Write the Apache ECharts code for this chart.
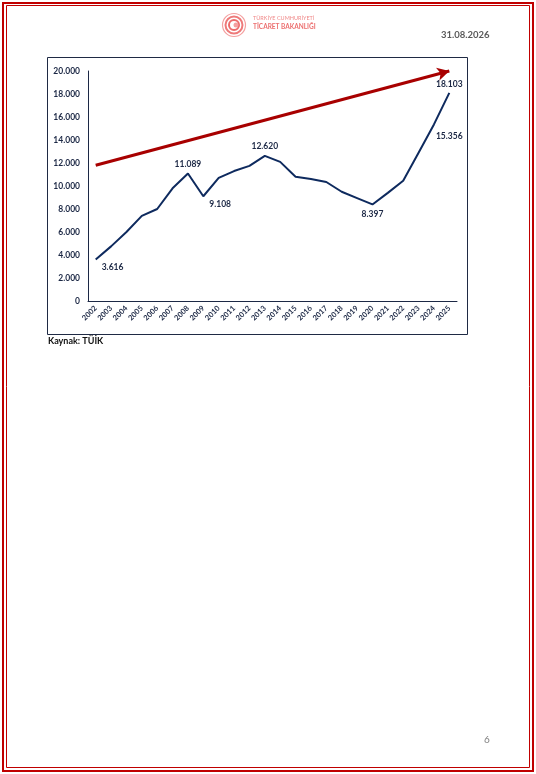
<!DOCTYPE html>
<html>
<head>
<meta charset="utf-8">
<script src="https://cdn.jsdelivr.net/npm/echarts@6/dist/echarts.min.js"></script>
<style>
    html, body { margin: 0; padding: 0; background: #fff; }
    #page { width: 536px; height: 774px; }
</style>
</head>
<body>
<div id="page"></div>
<script>
// yillar ve degerler
var years = ['2002', '2003', '2004', '2005', '2006', '2007', '2008', '2009', '2010', '2011', '2012', '2013',
    '2014', '2015', '2016', '2017', '2018', '2019', '2020', '2021', '2022', '2023', '2024', '2025'];
var values = [3616, 4750, 6000, 7400, 8000, 9800, 11089, 9108, 10700, 11300, 11750, 12620,
    12100, 10800, 10600, 10350, 9500, 8950, 8397, 9400, 10450, 12900, 15356, 18103];
// etiketli yillar ve etiket konumu
var labelYears = ['2002', '2008', '2009', '2013', '2020', '2024', '2025'];
var labelPos = ['right', 'top', 'right', 'top', 'bottom', 'right', 'top'];
// trend oku (baslangic / bitis), x = kategori sirasi
var trendStart = [0, 11800];
var trendEnd = [22.85, 20000];

var navy = '#0e2a5e';
var textDark = '#1c2845';

function fmt(v) {
    return String(v).replace(/\B(?=(\d{3})+(?!\d))/g, '.');
}

var labelStyle = {
    color: textDark, fontFamily: 'Lato', fontWeight: 'bold', fontSize: 8.5,
    formatter: function(p) { return fmt(p.value); }
};

var seriesData = values.map(function(v, i) {
    var k = labelYears.indexOf(years[i]);
    if (k < 0) return v;
    var pos = labelPos[k];
    var off = [0, 0];
    if (pos === 'right') off = [1, 8];
    if (years[i] === '2024') off = [-3, 12];
    if (years[i] === '2025') off = [0, 1];
    return {
        value: v,
        label: Object.assign({ show: true, position: pos, offset: off }, labelStyle)
    };
});

var chart = echarts.init(document.getElementById('page'));

var option = {
    animation: false,
    grid: { left: 88, right: 79, top: 71, bottom: 473 },
    xAxis: {
        type: 'category',
        data: years,
        axisLine: { lineStyle: { color: textDark, width: 1 } },
        axisTick: { show: false },
        axisLabel: {
            rotate: 45, interval: 0, margin: 6,
            color: textDark, fontFamily: 'Lato', fontWeight: 'bold', fontSize: 7.5
        }
    },
    yAxis: {
        type: 'value',
        min: 0, max: 20000, interval: 2000,
        splitLine: { show: false },
        axisLine: { show: true, lineStyle: { color: textDark, width: 1 } },
        axisTick: { show: false },
        axisLabel: {
            margin: 8, color: textDark, fontFamily: 'Lato', fontWeight: 'bold', fontSize: 8.5,
            formatter: fmt
        }
    },
    series: [{
        type: 'line',
        data: seriesData,
        symbol: 'circle',
        symbolSize: 0,
        lineStyle: { color: navy, width: 2 },
        itemStyle: { color: navy },
        label: Object.assign({ show: false }, labelStyle),
        markLine: {
            silent: true,
            symbol: ['none', 'arrow'],
            symbolSize: [10, 12],
            label: { show: false },
            lineStyle: { color: '#a80000', width: 3, type: 'solid' },
            data: [[{ coord: trendStart }, { coord: trendEnd }]]
        }
    }],
    graphic: [
        // sayfa cercevesi
        { type: 'rect', shape: { x: 3, y: 3, width: 530, height: 768 }, style: { fill: 'none', stroke: '#c00000', lineWidth: 2 } },
        { type: 'rect', shape: { x: 6.5, y: 5.5, width: 523, height: 762 }, style: { fill: 'none', stroke: '#c00000', lineWidth: 1 } },
        // grafik kutusu
        { type: 'rect', shape: { x: 47.5, y: 57.5, width: 420, height: 277 }, style: { fill: 'none', stroke: '#1f2a44', lineWidth: 1 } },
        // logo
        { type: 'circle', shape: { cx: 234, cy: 25, r: 11.5 }, style: { fill: 'none', stroke: '#f4a0a0', lineWidth: 1.2 } },
        { type: 'circle', shape: { cx: 234, cy: 25, r: 8.5 }, style: { fill: 'none', stroke: '#ee7a7a', lineWidth: 2 } },
        { type: 'circle', shape: { cx: 234, cy: 25, r: 5 }, style: { fill: 'none', stroke: '#ec6a6a', lineWidth: 2 } },
        { type: 'circle', shape: { cx: 236, cy: 25, r: 2.5 }, style: { fill: '#f4a0a0' } },
        { type: 'text', left: 253, top: 15, style: { text: 'TÜRKİYE CUMHURİYETİ', fill: '#f08a8a', font: '5.5px Lato' } },
        { type: 'text', left: 253, top: 23, style: { text: 'TİCARET BAKANLIĞI', fill: '#ec7070', font: 'bold 6.5px Lato' } },
        // tarih ve sayfa
        { type: 'text', left: 441, top: 30, style: { text: '31.08.2026', fill: '#595959', font: 'bold 9.5px Lato' } },
        { type: 'text', left: 484, top: 735, style: { text: '6', fill: '#7f7f7f', font: '10px Lato' } },
        // kaynak
        { type: 'text', left: 48, top: 337, style: { text: 'Kaynak: TÜİK', fill: '#111', font: 'bold 9px Lato' } }
    ]
};

chart.setOption(option);
</script>
</body>
</html>
